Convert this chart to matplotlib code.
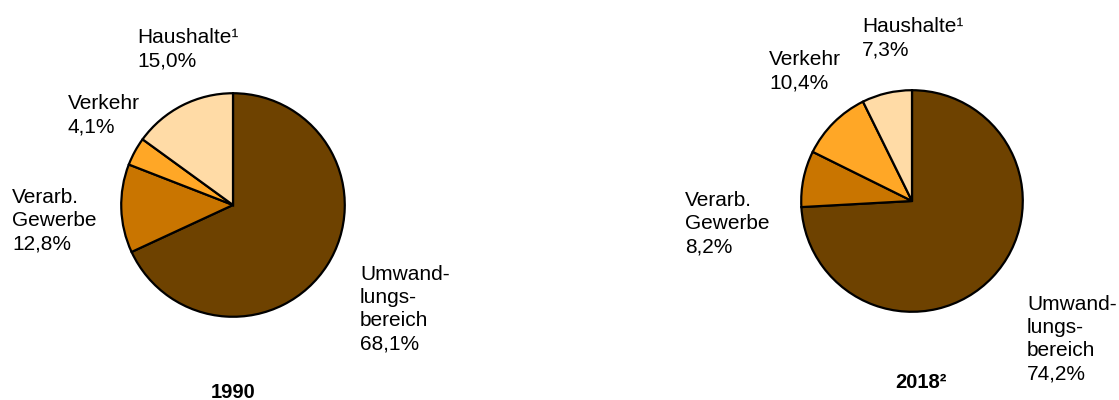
import matplotlib.pyplot as plt

# daten
labels = ['Umwandlungsbereich', 'Verarb. Gewerbe', 'Verkehr', 'Haushalte']
werte_1990 = [68.1, 12.8, 4.1, 15.0]
werte_2018 = [74.2, 8.2, 10.4, 7.3]
farben = ['#6E4200', '#C97500', '#FFA726', '#FFDBA6']

plt.rcParams['font.family'] = ['Liberation Sans', 'DejaVu Sans']

W, H = 1119, 400
fig = plt.figure(figsize=(W / 100, H / 100), dpi=100)


def pie_at(cx, cy, r, werte):
    ax = fig.add_axes([(cx - r) / W, (H - cy - r) / H, 2 * r / W, 2 * r / H])
    ax.pie(werte, colors=farben, startangle=90, counterclock=False,
           wedgeprops=dict(edgecolor='black', linewidth=1.6))
    ax.set_xlim(-1.02, 1.02)
    ax.set_ylim(-1.02, 1.02)
    ax.set_aspect('equal')
    ax.axis('off')


def fmt(v):
    return f'{v:.1f}'.replace('.', ',') + '%'


def txt(x, y, s, **kw):
    # y = oberkante der grossbuchstaben
    fig.text(x / W, 1 - (y - 2) / H, s, va='top', ha='left', fontsize=15,
             linespacing=1.28, **kw)


pie_at(233, 205, 114, werte_1990)
pie_at(912, 201, 113, werte_2018)

# beschriftung 1990
txt(137, 30, 'Haushalte\u00b9\n' + fmt(werte_1990[3]))
txt(68, 96, 'Verkehr\n' + fmt(werte_1990[2]))
txt(12, 190, 'Verarb.\nGewerbe\n' + fmt(werte_1990[1]))
txt(360, 267, 'Umwand-\nlungs-\nbereich\n' + fmt(werte_1990[0]))
fig.text(233 / W, 1 - 392 / H, '1990', ha='center', va='center',
         fontsize=14.5, fontweight='bold')

# beschriftung 2018
txt(862, 19, 'Haushalte\u00b9\n' + fmt(werte_2018[3]))
txt(769, 52, 'Verkehr\n' + fmt(werte_2018[2]))
txt(685, 193, 'Verarb.\nGewerbe\n' + fmt(werte_2018[1]))
txt(1027, 297, 'Umwand-\nlungs-\nbereich\n' + fmt(werte_2018[0]))
fig.text(921 / W, 1 - 383 / H, '2018\u00b2', ha='center', va='center',
         fontsize=14.5, fontweight='bold')

plt.savefig('out.png', dpi=100)
